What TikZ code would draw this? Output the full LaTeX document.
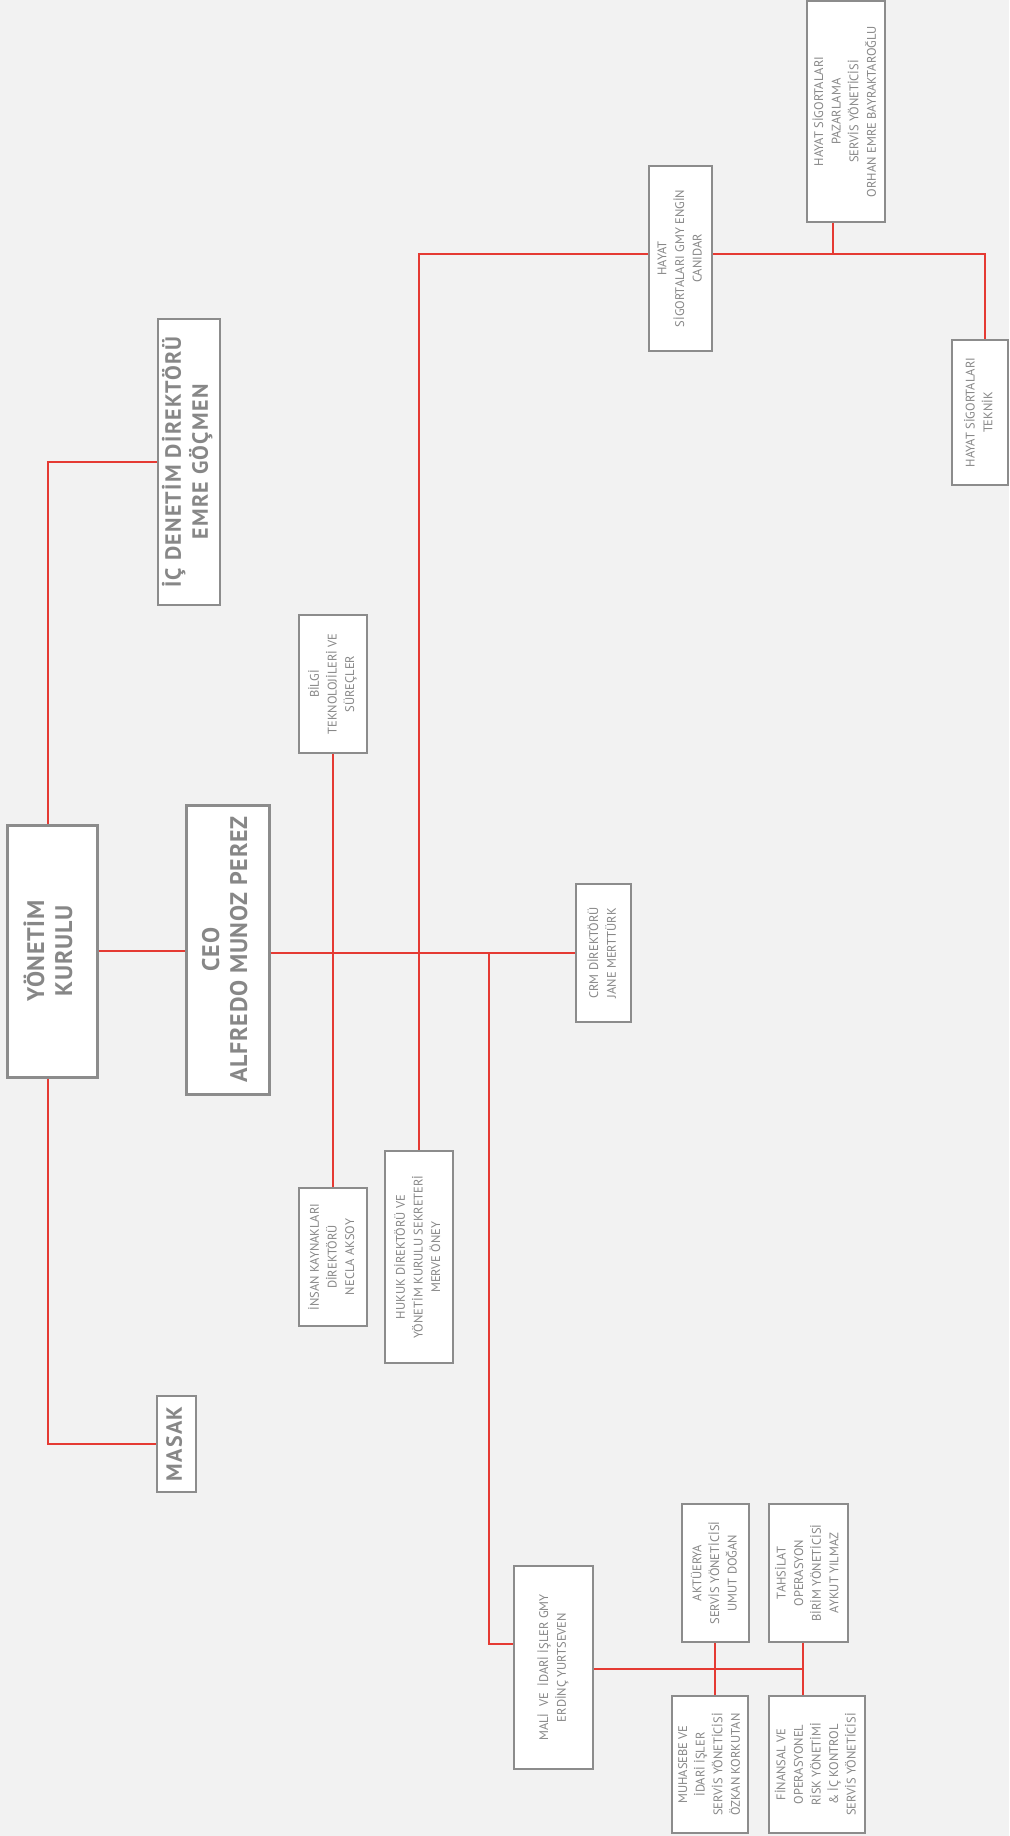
\documentclass[tikz,border=0pt]{standalone}
\usepackage{fontspec}
\setmainfont{PT Sans}
\usepackage{graphicx}
\definecolor{bg}{HTML}{F2F2F2}
\definecolor{boxgray}{HTML}{8C8C8C}
\definecolor{txtgray}{HTML}{878787}
\definecolor{linered}{HTML}{E53A33}
\newcommand{\rottext}[1]{\rotatebox{90}{\begin{tabular}{@{}c@{}}#1\end{tabular}}}
\newcommand{\bigfnt}{\fontsize{24}{28}\selectfont\bfseries\addfontfeatures{LetterSpace=3}}
\newcommand{\midfnt}{\fontsize{22}{27}\selectfont\bfseries\addfontfeatures{LetterSpace=6}}
\newcommand{\smallfnt}{\fontsize{12.5}{17.6}\selectfont}
\tikzset{
  orgbox/.style={draw=boxgray, line width=2pt, fill=white, inner sep=0pt, text=txtgray, font=\smallfnt},
  bigbox/.style={orgbox, line width=3pt, font=\bigfnt},
  midbox/.style={orgbox, font=\midfnt},
  link/.style={draw=linered, line width=1.5pt}
}
\begin{document}
\begin{tikzpicture}[x=1pt,y=-1pt]
\fill[bg] (0,0) rectangle (1009,1836);
\useasboundingbox (0,0) rectangle (1009,1836);

% boxes
\node[bigbox, minimum width=90pt, minimum height=252pt] (yk) at (52,951) {\rottext{YÖNETİM\\KURULU}};
\node[bigbox, minimum width=83pt, minimum height=289pt] (ceo) at (227.5,949.5) {\rottext{CEO\\ALFREDO MUNOZ PEREZ}};
\node[midbox, minimum width=62pt, minimum height=286pt] (icd) at (189,462) {\rottext{İÇ DENETİM DİREKTÖRÜ\\EMRE GÖÇMEN}};
\node[midbox, minimum width=39pt, minimum height=96pt] (masak) at (176.5,1444) {\rottext{MASAK}};
\node[orgbox, minimum width=68pt, minimum height=138pt] (bilgi) at (333,684) {\rottext{BİLGİ\\TEKNOLOJİLERİ VE\\SÜREÇLER}};
\node[orgbox, minimum width=68pt, minimum height=138pt] (ik) at (333,1257) {\rottext{İNSAN KAYNAKLARI\\DİREKTÖRÜ\\NECLA AKSOY}};
\node[orgbox, minimum width=68pt, minimum height=212pt] (hukuk) at (419,1257) {\rottext{HUKUK DİREKTÖRÜ VE\\YÖNETİM KURULU SEKRETERİ\\MERVE ÖNEY}};
\node[orgbox, minimum width=55pt, minimum height=138pt] (crm) at (603.5,953) {\rottext{CRM DİREKTÖRÜ\\JANE MERTTÜRK}};
\node[orgbox, minimum width=63pt, minimum height=185pt] (hgmy) at (680.5,258.5) {\rottext{HAYAT\\SİGORTALARI GMY ENGİN\\CANIDAR}};
\node[orgbox, minimum width=78pt, minimum height=221pt] (hpaz) at (846,111.5) {\rottext{HAYAT SİGORTALARI\\PAZARLAMA\\SERVİS YÖNETİCİSİ\\ORHAN EMRE BAYRAKTAROĞLU}};
\node[orgbox, minimum width=56pt, minimum height=145pt] (htek) at (980,412.5) {\rottext{HAYAT SİGORTALARI\\TEKNİK}};
\node[orgbox, minimum width=79pt, minimum height=203pt] (mali) at (553.5,1667.5) {\rottext{MALİ \ VE \ İDARİ İŞLER GMY\\ERDİNÇ YURTSEVEN}};
\node[orgbox, minimum width=67pt, minimum height=138pt] (akt) at (715.5,1573) {\rottext{AKTÜERYA\\SERVİS YÖNETİCİSİ\\UMUT DOĞAN}};
\node[orgbox, minimum width=79pt, minimum height=138pt] (tah) at (808.5,1573) {\rottext{TAHSİLAT\\OPERASYON\\BİRİM YÖNETİCİSİ\\AYKUT YILMAZ}};
\node[orgbox, minimum width=76pt, minimum height=137pt] (muh) at (710,1764.5) {\rottext{MUHASEBE VE\\İDARİ İŞLER\\SERVİS YÖNETİCİSİ\\ÖZKAN KORKUTAN}};
\node[orgbox, minimum width=96pt, minimum height=137pt] (fin) at (817,1764.5) {\rottext{FİNANSAL VE\\OPERASYONEL\\RİSK YÖNETİMİ\\\& İÇ KONTROL\\SERVİS YÖNETİCİSİ}};

% junction coordinates
\coordinate (jy) at (48,0);
\coordinate (jm) at (489,952);
\coordinate (jm2) at (489,1644);
\coordinate (jh) at (420,254);
\coordinate (jp) at (833,254);
\coordinate (jt) at (985,254);
\coordinate (jb) at (803,1669);
\coordinate (ja) at (715,1669);

% connectors
\draw[link] (jy |- yk.north) |- (icd.west);
\draw[link] (jy |- yk.south) |- (masak.west);
\draw[link] (yk.east) -- (yk.east -| ceo.west);
\draw[link] (ceo.east |- crm.west) -- (crm.west);
\draw[link] (bilgi.south) -- (ik.north);
\draw[link] (hukuk.north) -- (hukuk.north |- jh) -- (jh -| hgmy.west);
\draw[link] (hgmy.east |- jh) -- (jt) -- (jt |- htek.north);
\draw[link] (jp) -- (jp |- hpaz.south);
\draw[link] (jm) -- (jm2) -- (jm2 -| mali.west);
\draw[link] (mali.east |- jb) -- (jb);
\draw[link] (jb |- tah.south) -- (jb |- fin.north);
\draw[link] (ja |- akt.south) -- (ja |- muh.north);
\end{tikzpicture}
\end{document}
